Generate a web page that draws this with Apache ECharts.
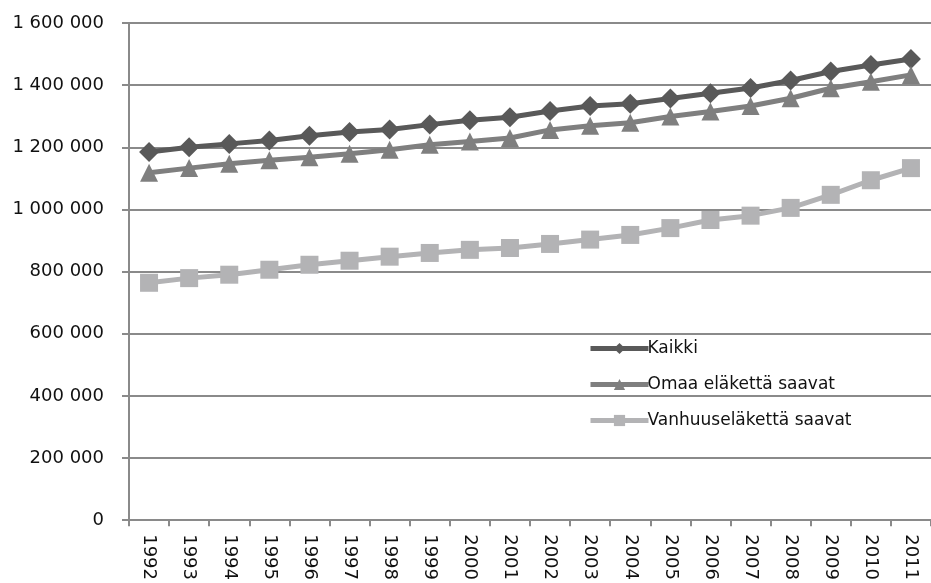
<!DOCTYPE html>
<html><head><meta charset="utf-8">
<script src="https://cdn.jsdelivr.net/npm/echarts@6/dist/echarts.min.js"></script>
<style>html,body{margin:0;padding:0;background:#fff}#c{width:931px;height:583px}</style>
</head><body><div id="c"></div>
<script>
const years = ['1992','1993','1994','1995','1996','1997','1998','1999','2000','2001','2002','2003','2004','2005','2006','2007','2008','2009','2010','2011'];
const kaikki = [1185000,1200000,1211000,1222000,1237000,1249000,1257000,1273000,1287000,1297000,1317000,1333000,1340000,1357000,1374000,1391000,1415000,1444000,1465000,1484000];
const omaa = [1118000,1133000,1147000,1158000,1168000,1179000,1192000,1208000,1219000,1230000,1256000,1269000,1279000,1299000,1315000,1333000,1358000,1390000,1411000,1433000];
const vanhuus = [764000,779000,790000,806000,822000,835000,848000,860000,870000,876000,889000,903000,918000,940000,966000,980000,1005000,1047000,1094000,1133000];
const yTicks = [0,200000,400000,600000,800000,1000000,1200000,1400000,1600000];
const names = ['Kaikki','Omaa eläkettä saavat','Vanhuuseläkettä saavat'];

const font = '"DejaVu Sans", sans-serif';
const fmt = v => String(v).replace(/\B(?=(\d{3})+(?!\d))/g, ' ');
const chart = echarts.init(document.getElementById('c'), null, {renderer:'canvas'});
function ser(name, data, color, symbol, size){
  return {name, type:'line', data, color, symbol, symbolSize:size, showAllSymbol:true,
    lineStyle:{width:5, color}, itemStyle:{color}, animation:false};
}
chart.setOption({
  animation:false,
  grid:{left:129, top:23, bottom:62, right:-12, containLabel:false},
  legend:{orient:'vertical', left:583, top:335, itemWidth:58, itemHeight:14, itemGap:19,
    lineStyle:{width:5},
    textStyle:{fontFamily:font, fontSize:17, color:'#111', padding:[0,0,0,-6]},
    data:names},
  xAxis:{type:'category', data:years, boundaryGap:true,
    axisLine:{lineStyle:{color:'#8a8a8a', width:2}},
    axisTick:{show:true, length:6, alignWithLabel:false, lineStyle:{color:'#8a8a8a', width:2}},
    axisLabel:{rotate:-90, interval:0, margin:14, fontFamily:font, fontSize:18, color:'#111'}},
  yAxis:{type:'value', min:0, max:1600000, interval:200000,
    axisLine:{show:true, lineStyle:{color:'#8a8a8a', width:2}},
    axisTick:{show:true, length:7, lineStyle:{color:'#8a8a8a', width:2}},
    splitLine:{lineStyle:{color:'#8a8a8a', width:2}},
    axisLabel:{margin:25, fontFamily:font, fontSize:18, color:'#111', formatter:v=>fmt(v)}},
  series:[
    ser(names[0], kaikki, '#595959', 'diamond', 20),
    ser(names[1], omaa, '#7f7f7f', 'triangle', 18),
    ser(names[2], vanhuus, '#b3b3b5', 'rect', 18)
  ]
});
</script></body></html>
